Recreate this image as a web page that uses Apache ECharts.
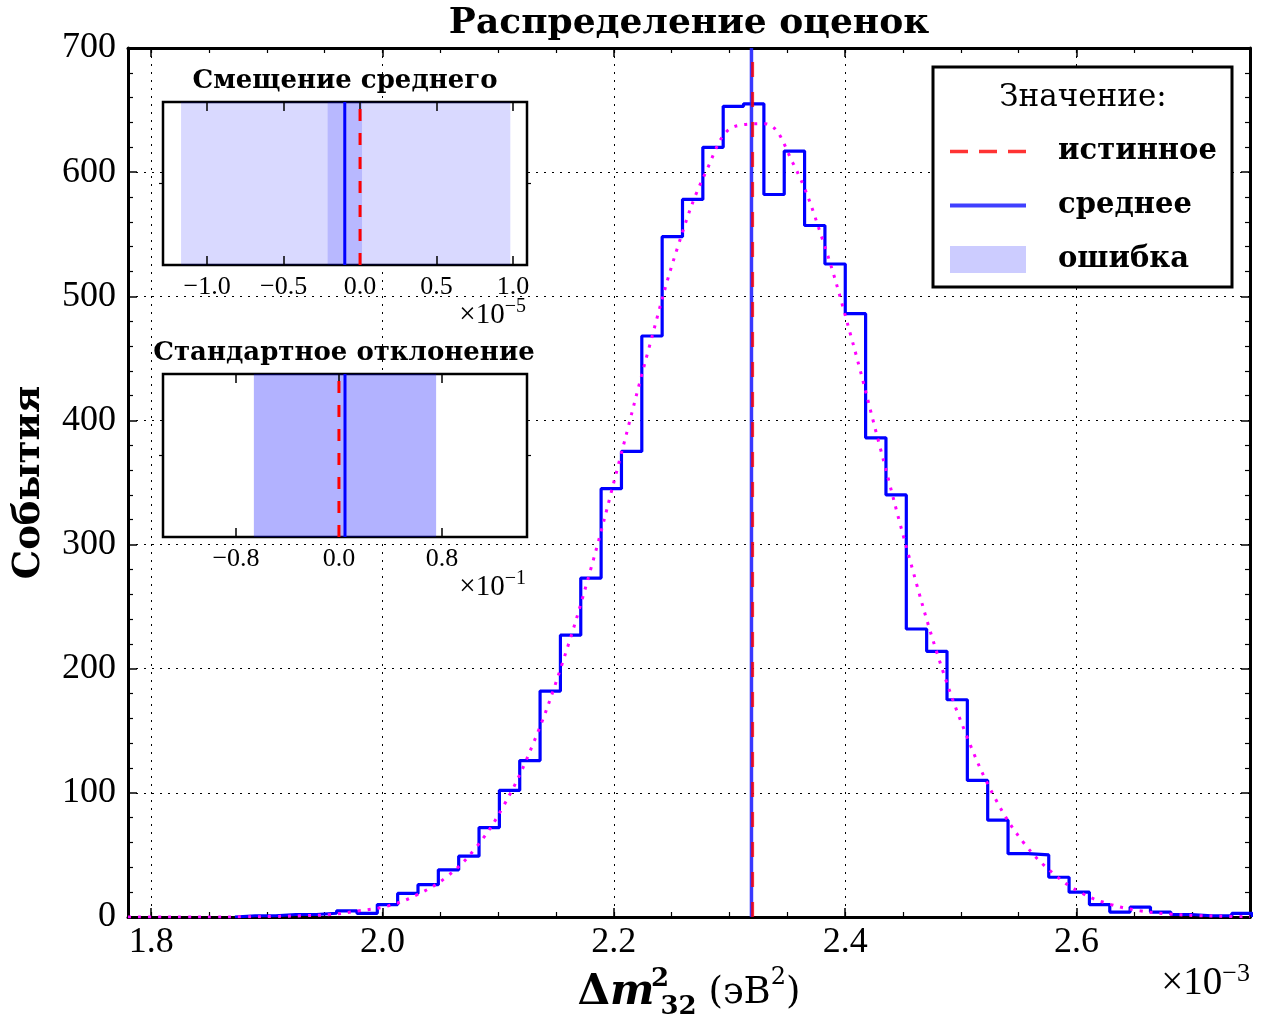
<!DOCTYPE html>
<html><head><meta charset="utf-8">
<script src="https://cdn.jsdelivr.net/npm/echarts@6/dist/echarts.min.js"></script>
<style>html,body{margin:0;padding:0;background:#fff}#c{width:1269px;height:1016px}</style>
</head><body><div id="c"></div>
<script>
// ---------- main histogram (x in units of 10^-3 eV^2) ----------
const binStart = 1.8724;
const binWidth = 0.01759;
const counts = [1,1,2,2,3,5,3,10,19,26,38,49,72,102,126,182,227,273,345,375,
                468,548,578,620,653,655,582,617,557,526,486,386,340,232,214,175,110,78,51,50,
                32,20,10,4,8,4,2,1,1,3];
// gaussian fit curve
const fitX = [1.78,1.805,1.83,1.855,1.88,1.905,1.93,1.955,1.98,2.005,
              2.03,2.055,2.08,2.105,2.13,2.155,2.18,2.205,2.23,2.255,
              2.28,2.305,2.33,2.355,2.38,2.405,2.43,2.455,2.48,2.505,
              2.53,2.555,2.58,2.605,2.63,2.655,2.68,2.705,2.73,2.75];
const fitY = [0,0,0,0,0.2,0.4,1,2,5,9,
              18,32,55,90,139,203,280,368,457,539,
              601,637,639,607,547,468,379,291,211,146,
              95,59,35,19,10,5,2.4,1.1,0.5,0.2];
const trueValue = 2.32;
const meanValue = 2.319;
const meanError = 0.00113;
const xMajorTicks = [1.8,2.0,2.2,2.4,2.6];
const xMinorTicks = [1.8,1.85,1.9,1.95,2.0,2.05,2.1,2.15,2.2,2.25,2.3,2.35,2.4,2.45,2.5,2.55,2.6,2.65,2.7,2.75];
const xRange = [1.78, 2.75];
const yRange = [0, 700];

// ---------- inset 1: bias of the mean (x 10^-5) ----------
const biasRange = [-1.289, 1.092];
const biasTicks = [-1.0,-0.5,0.0,0.5,1.0];
const biasOuterBand = [-1.171, 0.983];
const biasInnerBand = [-0.212, 0.013];
const biasMean = -0.1;
const biasTrue = 0.0;

// ---------- inset 2: standard deviation (x 10^-1) ----------
const stdRange = [-1.367, 1.461];
const stdTicks = [-0.8, 0.0, 0.8];
const stdBand = [-0.661, 0.755];
const stdMean = 0.047;
const stdTrue = 0.0;

const histPts = [[binStart, 0]];
counts.forEach((c, i) => {
  const l = binStart + i * binWidth;
  histPts.push([l, c], [l + binWidth, c]);
});
histPts.push([binStart + counts.length * binWidth, 0]);
const fitPts = fitX.map((x, i) => [x, fitY[i]]);

const NUM = 'Liberation Serif';
const SER = 'DejaVu Serif';
const fmt1 = v => (v < 0 ? '\u2212' : '') + Math.abs(v).toFixed(1);
const dotted = { color: '#000', width: 1, type: [2, 6] };

function majorAxis(grid, pos, labels, extra) {
  return Object.assign({
    type: 'value', gridIndex: grid, position: pos, min: xRange[0], max: xRange[1],
    axisLine: { show: true, onZero: false, lineStyle: { color: '#000', width: 3 } },
    axisTick: { show: true, inside: true, length: 9, customValues: xMajorTicks, lineStyle: { color: '#000', width: 1.5 } },
    axisLabel: { show: labels, customValues: xMajorTicks, formatter: v => v.toFixed(1), fontFamily: NUM, fontSize: 36, color: '#000', margin: 8 },
    splitLine: { show: false }
  }, extra || {});
}
function minorAxis(grid, pos) {
  return {
    type: 'value', gridIndex: grid, position: pos, min: xRange[0], max: xRange[1],
    axisLine: { show: false, onZero: false },
    axisTick: { show: true, inside: true, length: 5, customValues: xMinorTicks, lineStyle: { color: '#000', width: 1.2 } },
    axisLabel: { show: false }, splitLine: { show: false }
  };
}
function insetX(grid, pos, range, ticks, labels) {
  return {
    type: 'value', gridIndex: grid, position: pos, min: range[0], max: range[1], z: 3,
    axisLine: { show: false, onZero: false },
    axisTick: { show: true, inside: true, length: 9, customValues: ticks, lineStyle: { color: '#000', width: 1.5 } },
    axisLabel: { show: labels, customValues: ticks, formatter: fmt1, fontFamily: NUM, fontSize: 26, color: '#000', margin: 9 },
    splitLine: { show: false }
  };
}
function insetY(grid, pos) {
  return {
    type: 'value', gridIndex: grid, position: pos, min: 0, max: 1, z: 3,
    axisLine: { show: false, onZero: false },
    axisTick: { show: true, inside: false, length: 4, customValues: [0.5], lineStyle: { color: '#000', width: 1.2 } },
    axisLabel: { show: false }, splitLine: { show: false }
  };
}
function vline(name, xi, yi, v, y1, color, width, dash, z) {
  return {
    name: name, type: 'line', xAxisIndex: xi, yAxisIndex: yi, data: [[v, 0], [v, y1]],
    symbol: 'none', silent: true, z: z,
    lineStyle: { color: color, width: width, type: dash || 'solid' }, itemStyle: { color: color }
  };
}
function band(name, xi, yi, lo, hi, color, z) {
  return {
    name: name, type: 'line', xAxisIndex: xi, yAxisIndex: yi, data: [], symbol: 'none', silent: true, z: z,
    lineStyle: { width: 0 }, itemStyle: { color: color },
    markArea: { silent: true, itemStyle: { color: color }, data: [[{ xAxis: lo }, { xAxis: hi }]] }
  };
}
const noSym = { color: 'rgba(0,0,0,0)', borderWidth: 0, opacity: 0 };

const option = {
  animation: false,
  backgroundColor: '#fff',
  grid: [
    { left: 128, top: 48, width: 1122, height: 869, containLabel: false, outerBoundsMode: 'none' },
    { left: 163, top: 102, width: 364, height: 163, show: true, backgroundColor: '#fff', borderColor: '#000', borderWidth: 2.5, z: 1, outerBoundsMode: 'none' },
    { left: 163, top: 374, width: 364, height: 163, show: true, backgroundColor: '#fff', borderColor: '#000', borderWidth: 2.5, z: 1, outerBoundsMode: 'none' }
  ],
  xAxis: [
    majorAxis(0, 'bottom', true, {
      splitLine: { show: true, lineStyle: dotted },
      name: '{b|\u0394}{m|m}{sp|}{sup|2}{sub|32}{r| (\u044d\u0412}{rs|2}{r|)}',
      nameLocation: 'middle', nameGap: 36,
      nameTextStyle: {
        color: '#000',
        rich: {
          b: { fontFamily: SER, fontWeight: 'bold', fontSize: 42, lineHeight: 54 },
          m: { fontFamily: SER, fontWeight: 'bold', fontStyle: 'italic', fontSize: 42, lineHeight: 54 },
          sp: { width: 5 },
          sup: { fontFamily: SER, fontWeight: 'bold', fontSize: 26, verticalAlign: 'top', width: 1 },
          sub: { fontFamily: SER, fontWeight: 'bold', fontSize: 26, verticalAlign: 'bottom' },
          r: { fontFamily: SER, fontSize: 37, lineHeight: 54 },
          rs: { fontFamily: SER, fontSize: 24, verticalAlign: 'top' }
        }
      }
    }),
    minorAxis(0, 'bottom'),
    majorAxis(0, 'top', false),
    minorAxis(0, 'top'),
    insetX(1, 'bottom', biasRange, biasTicks, true),
    insetX(1, 'top', biasRange, biasTicks, false),
    insetX(2, 'bottom', stdRange, stdTicks, true),
    insetX(2, 'top', stdRange, stdTicks, false)
  ],
  yAxis: [
    {
      type: 'value', gridIndex: 0, position: 'left', min: yRange[0], max: yRange[1], interval: 100,
      axisLine: { show: true, onZero: false, lineStyle: { color: '#000', width: 3 } },
      axisTick: { show: true, inside: true, length: 9, lineStyle: { color: '#000', width: 1.5 } },
      minorTick: { show: true, splitNumber: 5, length: 5, lineStyle: { color: '#000', width: 1.2 } },
      axisLabel: { fontFamily: NUM, fontSize: 36, color: '#000', margin: 12 },
      splitLine: { show: true, lineStyle: dotted },
      name: 'События', nameLocation: 'middle', nameRotate: 90, nameGap: 80,
      nameTextStyle: { fontFamily: SER, fontWeight: 'bold', fontSize: 37, color: '#000' }
    },
    {
      type: 'value', gridIndex: 0, position: 'right', min: yRange[0], max: yRange[1], interval: 100,
      axisLine: { show: true, onZero: false, lineStyle: { color: '#000', width: 3 } },
      axisTick: { show: true, inside: true, length: 9, lineStyle: { color: '#000', width: 1.5 } },
      minorTick: { show: true, splitNumber: 5, length: 5, lineStyle: { color: '#000', width: 1.2 } },
      axisLabel: { show: false }, splitLine: { show: false }
    },
    insetY(1, 'left'), insetY(1, 'right'),
    insetY(2, 'left'), insetY(2, 'right')
  ],
  legend: {
    data: [
      { name: 'истинное', itemStyle: noSym, lineStyle: { color: 'rgba(255,0,0,0.8)', width: 3.5, type: [18, 11] } },
      { name: 'среднее', itemStyle: noSym, lineStyle: { color: 'rgba(30,30,255,0.85)', width: 4 } },
      { name: 'ошибка', icon: 'rect', itemStyle: { color: '#ccccff' } }
    ],
    orient: 'vertical', left: 948, top: 137, padding: 0, itemWidth: 76, itemHeight: 27, itemGap: 25,
    selectedMode: false, z: 6,
    textStyle: { fontFamily: SER, fontWeight: 'bold', fontSize: 29, color: '#000', padding: [0, 0, 0, 27] }
  },
  series: [
    band('ошибка', 0, 0, meanValue - meanError, meanValue + meanError, 'rgba(0,0,255,0.2)', 2),
    {
      name: 'гистограмма', type: 'line', xAxisIndex: 0, yAxisIndex: 0, data: histPts,
      symbol: 'none', silent: true, z: 3, clip: true,
      lineStyle: { color: '#0000ff', width: 3.2 }
    },
    {
      name: 'фит', type: 'line', xAxisIndex: 0, yAxisIndex: 0, data: fitPts,
      symbol: 'none', silent: true, z: 4, smooth: 0.4, clip: true,
      lineStyle: { color: '#ff00ff', width: 3, type: [3, 7] }
    },
    vline('среднее', 0, 0, meanValue, yRange[1], 'rgba(30,30,255,0.85)', 3.5, null, 5),
    vline('истинное', 0, 0, trueValue, yRange[1], 'rgba(255,0,0,0.8)', 3, [15, 15], 6),
    // inset 1
    band('bias-outer', 4, 2, biasOuterBand[0], biasOuterBand[1], 'rgba(0,0,255,0.15)', 4),
    band('bias-inner', 4, 2, biasInnerBand[0], biasInnerBand[1], 'rgba(0,0,255,0.15)', 4),
    vline('bias-mean', 4, 2, biasMean, 1, '#0000ff', 3, null, 5),
    vline('bias-true', 4, 2, biasTrue, 1, '#ff0000', 3, [12, 12], 6),
    // inset 2
    band('std-band', 6, 4, stdBand[0], stdBand[1], 'rgba(0,0,255,0.3)', 4),
    vline('std-mean', 6, 4, stdMean, 1, '#0000ff', 3, null, 5),
    vline('std-true', 6, 4, stdTrue, 1, '#ff0000', 3, [12, 12], 6)
  ],
  graphic: [
    { type: 'text', x: 689, y: 24, z: 10, style: { text: 'Распределение оценок', fontFamily: SER, fontWeight: 'bold', fontSize: 36, fill: '#000', align: 'center', verticalAlign: 'middle' } },
    { type: 'rect', shape: { x: 933, y: 67, width: 299, height: 220 }, z: 5, style: { fill: '#fff', stroke: '#000', lineWidth: 3 } },
    { type: 'text', x: 1083, y: 98, z: 7, style: { text: 'Значение:', fontFamily: SER, fontSize: 31, fill: '#000', align: 'center', verticalAlign: 'middle' } },
    { type: 'text', x: 345, y: 81, z: 10, style: { text: 'Смещение среднего', fontFamily: SER, fontWeight: 'bold', fontSize: 26, fill: '#000', align: 'center', verticalAlign: 'middle' } },
    { type: 'text', x: 344, y: 353, z: 10, style: { text: 'Стандартное отклонение', fontFamily: SER, fontWeight: 'bold', fontSize: 26, fill: '#000', align: 'center', verticalAlign: 'middle' } },
    { type: 'text', x: 526, y: 315, z: 10, style: { text: '{a|\u00d710}{b|\u22125}', align: 'right', verticalAlign: 'middle', rich: { a: { fontFamily: NUM, fontSize: 29, lineHeight: 36, fill: '#000' }, b: { fontFamily: NUM, fontSize: 20, verticalAlign: 'top', fill: '#000' } } } },
    { type: 'text', x: 526, y: 587, z: 10, style: { text: '{a|\u00d710}{b|\u22121}', align: 'right', verticalAlign: 'middle', rich: { a: { fontFamily: NUM, fontSize: 29, lineHeight: 36, fill: '#000' }, b: { fontFamily: NUM, fontSize: 20, verticalAlign: 'top', fill: '#000' } } } },
    { type: 'text', x: 1250, y: 984, z: 10, style: { text: '{a|\u00d710}{b|\u22123}', align: 'right', verticalAlign: 'middle', rich: { a: { fontFamily: NUM, fontSize: 39, lineHeight: 46, fill: '#000' }, b: { fontFamily: NUM, fontSize: 26, verticalAlign: 'top', fill: '#000' } } } }
  ]
};
const chart = echarts.init(document.getElementById('c'), null, { renderer: 'canvas' });
chart.setOption(option);
</script></body></html>
